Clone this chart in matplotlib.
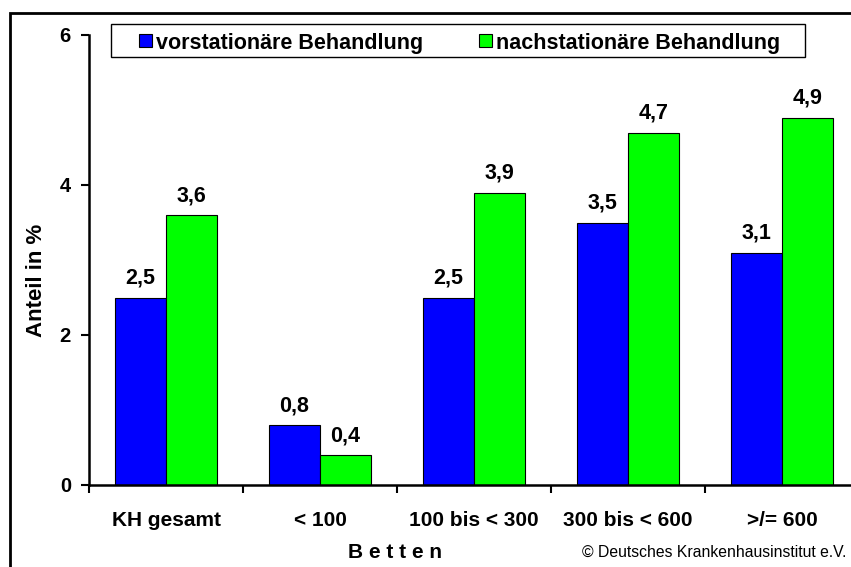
import matplotlib
matplotlib.use("Agg")
import matplotlib.pyplot as plt
from matplotlib.patches import Rectangle
import numpy as np

categories = ["KH gesamt", "< 100", "100 bis < 300", "300 bis < 600", ">/= 600"]
vor = [2.5, 0.8, 2.5, 3.5, 3.1]
nach = [3.6, 0.4, 3.9, 4.7, 4.9]
series_names = ["vorstationäre Behandlung", "nachstationäre Behandlung"]
colors = ["#0000FF", "#00FF00"]
yticks = [0, 2, 4, 6]

plt.rcParams['font.family'] = ['Liberation Sans', 'DejaVu Sans']

W, H = 851, 567
fig = plt.figure(figsize=(W / 100, H / 100), dpi=100)

def fx(px):
    return px / W

def fy(py):
    return 1 - py / H

ax_left, ax_right, ax_top, ax_bot = 89, 851, 35, 485
ax = fig.add_axes([fx(ax_left), fy(ax_bot), fx(ax_right - ax_left), (ax_bot - ax_top) / H])

x = np.arange(len(categories))
bw = 51 / 154
ax.bar(x - bw / 2, vor, bw, color=colors[0], edgecolor="black", linewidth=0.8)
ax.bar(x + bw / 2, nach, bw, color=colors[1], edgecolor="black", linewidth=0.8)

for xs, vals in ((x - bw / 2, vor), (x + bw / 2, nach)):
    for xi, v in zip(xs, vals):
        ax.annotate(f"{v:.1f}".replace(".", ","), (xi, v), xytext=(0, 10), textcoords="offset points",
                    ha="center", va="baseline", fontsize=15.5, fontweight="bold")

ax.set_xlim(-0.5, -0.5 + (ax_right - ax_left) / 154)
ax.set_ylim(0, 6)
ax.set_yticks(yticks)
ax.set_yticklabels([str(t) for t in yticks], fontsize=14.5, fontweight="bold")
ax.tick_params(axis="y", direction="out", length=6, width=1.5, pad=7)

ax.set_xticks(x)
ax.set_xticklabels(categories, fontsize=15, fontweight="bold")
ax.tick_params(axis="x", which="major", length=0, pad=19)
ax.set_xticks(np.arange(len(categories)) - 0.5, minor=True)
ax.tick_params(axis="x", which="minor", direction="out", length=6, width=1.5)

for s in ["top", "right"]:
    ax.spines[s].set_visible(False)
ax.spines["left"].set_linewidth(1.8)
ax.spines["bottom"].set_linewidth(1.8)

fig.text(fx(36), fy(280), "Anteil in %", rotation=90, ha="center", va="center",
         fontsize=16, fontweight="bold")
fig.text(fx(395), fy(552), "B e t t e n", ha="center", va="center", fontsize=15, fontweight="bold")
fig.text(fx(846), fy(552), "© Deutsches Krankenhausinstitut e.V.", ha="right", va="center", fontsize=11.3)

# legend box
fig.patches.append(Rectangle((fx(111), fy(57)), fx(805 - 111), (57 - 24) / H, transform=fig.transFigure,
                             facecolor="white", edgecolor="black", linewidth=1.0))
for sx, name, col in zip([139, 479], series_names, colors):
    fig.patches.append(Rectangle((fx(sx), fy(47)), fx(13), 13 / H, transform=fig.transFigure,
                                 facecolor=col, edgecolor="black", linewidth=0.8))
    fig.text(fx(sx + 17), fy(41), name, ha="left", va="center_baseline", fontsize=15.5, fontweight="bold")

border = Rectangle((fx(10), fy(600)), fx(900), (600 - 13) / H, transform=fig.transFigure,
                   fill=False, edgecolor="black", linewidth=2, clip_on=False)
fig.patches.append(border)

fig.savefig("out.png", dpi=100)
